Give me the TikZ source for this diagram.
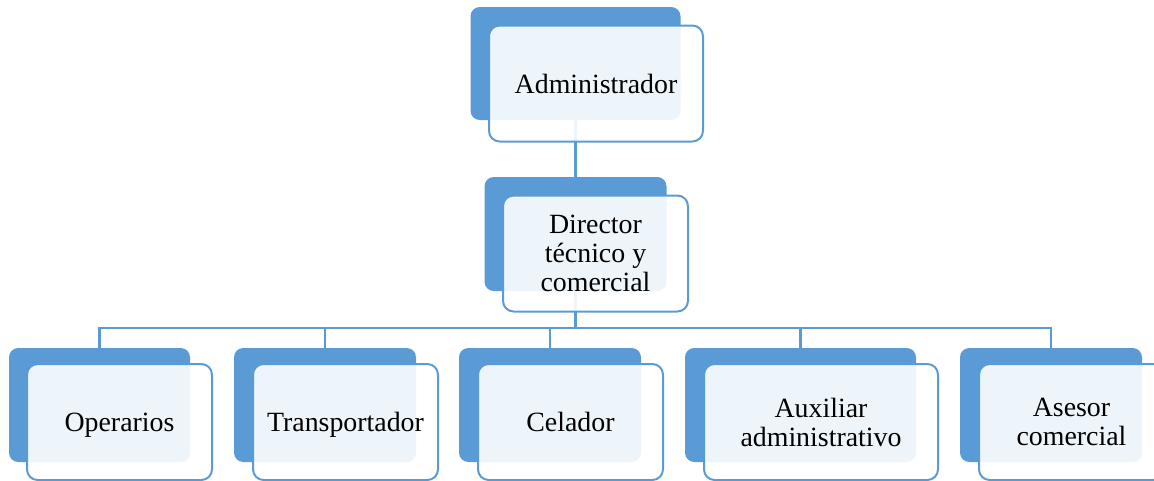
\documentclass[tikz,border=0pt]{standalone}
\usepackage{fontspec}
\setmainfont{Liberation Serif}
\definecolor{obl}{HTML}{5B9BD5}
\tikzset{
  backbox/.style={draw=none, fill=obl, rounded corners=7pt, inner sep=0pt, minimum height=85.5pt},
  frontbox/.style={draw=obl, line width=1.5pt, fill=white, fill opacity=0.9, text opacity=1,
    rounded corners=8pt, inner sep=0pt, minimum height=87pt, align=center, text depth=0pt,
    font=\fontsize{20.9}{21.8}\selectfont},
  conn/.style={draw=obl, line width=1.8pt}
}
\begin{document}
\begin{tikzpicture}[x=0.75pt,y=-0.75pt]
\useasboundingbox (0,0) rectangle (1154,480);
% back boxes
\node[backbox, minimum width=157.5pt, minimum height=84.75pt] (adminB) at (575.5,63.5) {};
\node[backbox, minimum width=136.5pt] (dirB) at (575.5,234) {};
\node[backbox, minimum width=135.75pt] (opB) at (99.5,405) {};
\node[backbox, minimum width=136.5pt] (trB) at (325,405) {};
\node[backbox, minimum width=136.5pt] (ceB) at (550,405) {};
\node[backbox, minimum width=173.25pt] (auB) at (800.5,405) {};
\node[backbox, minimum width=136.5pt] (asB) at (1051,405) {};
% connectors
\coordinate (bus) at (575.5,328);
\draw[conn] (adminB.south) -- (dirB.north);
\draw[conn] (dirB.south) -- (bus);
\draw[conn] (bus) -| (opB.north);
\draw[conn] (bus) -| (trB.north);
\draw[conn] (bus) -| (ceB.north);
\draw[conn] (bus) -| (auB.north);
\draw[conn] (bus) -| (asB.north);
% front boxes
\node[frontbox, minimum width=160.5pt] (adminF) at (596,83.5) {Administrador};
\node[frontbox, minimum width=138.75pt] (dirF) at (595.5,253.5) {Director\\técnico y\\comercial};
\node[frontbox, minimum width=138.75pt] (opF) at (119.5,422) {Operarios};
\node[frontbox, minimum width=138.75pt] (trF) at (345.5,422) {Transportador};
\node[frontbox, minimum width=138.75pt] (ceF) at (570.5,422) {Celador};
\node[frontbox, minimum width=175.5pt] (auF) at (821,422) {Auxiliar\\administrativo};
\node[frontbox, minimum width=138.75pt] (asF) at (1071.5,422) {Asesor\\comercial};
\end{tikzpicture}
\end{document}
